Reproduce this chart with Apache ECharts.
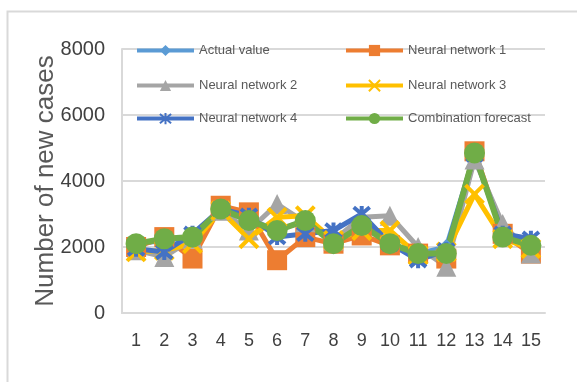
<!DOCTYPE html>
<html>
<head>
<meta charset="utf-8">
<script src="https://cdn.jsdelivr.net/npm/echarts@6/dist/echarts.min.js"></script>
<style>
  html, body { margin: 0; padding: 0; background: #fff; }
  #chart { width: 577px; height: 382px; }
</style>
</head>
<body>
<div id="chart"></div>
<script>
// Days 1..15 and the daily counts of new cases per model
const categories = ['1','2','3','4','5','6','7','8','9','10','11','12','13','14','15'];
const actualValue   = [2100, 2200, 2300, 3150, 2850, 2500, 2800, 2150, 2700, 2100, 1800, 2000, 4800, 2350, 2100];
const neuralNet1    = [2000, 2300, 1650, 3250, 3050, 1600, 2300, 2100, 2350, 2050, 1800, 1650, 4900, 2400, 1800];
const neuralNet2    = [1900, 1700, 2250, 3100, 2500, 3300, 2750, 2200, 2900, 2950, 2000, 1400, 4650, 2700, 1800];
const neuralNet3    = [1850, 1900, 2100, 3100, 2250, 2900, 2950, 2200, 2500, 2500, 1750, 1850, 3600, 2250, 1950];
const neuralNet4    = [1950, 1850, 2400, 3150, 2950, 2300, 2400, 2500, 3000, 2100, 1600, 1900, 4800, 2400, 2250];
const combination   = [2100, 2250, 2300, 3150, 2800, 2500, 2800, 2100, 2650, 2100, 1800, 1800, 4850, 2300, 2050];
const yTicks = { min: 0, max: 8000, interval: 2000 };

const plain = '"Liberation Sans", Arial, sans-serif';

const xMark = 'path://M0,0L10,10M10,0L0,10';
const starMark = 'path://M0,0L10,10M10,0L0,10M5,-1L5,11';

function lineSeries(name, data, color, symbol, size, width, strokeOnly) {
  return {
    name, type: 'line', data,
    symbol, symbolSize: size,
    lineStyle: { color, width },
    itemStyle: strokeOnly
      ? { color: 'rgba(0,0,0,0)', borderColor: color, borderWidth: 4 }
      : { color, borderColor: color, borderWidth: 0 },
    emphasis: { disabled: true },
    animation: false
  };
}

const seriesList = [
  lineSeries('Actual value', actualValue, '#5B9BD5', 'diamond', 16, 5),
  lineSeries('Neural network 1', neuralNet1, '#ED7D31', 'rect', 20, 5),
  lineSeries('Neural network 2', neuralNet2, '#A5A5A5', 'triangle', 20, 5),
  lineSeries('Neural network 3', neuralNet3, '#FFC000', xMark, 18, 5, true),
  lineSeries('Neural network 4', neuralNet4, '#4472C4', starMark, 16, 5, true),
  lineSeries('Combination forecast', combination, '#70AD47', 'circle', 21, 6)
];

// Two-column legend placed inside the plot area
const legendSlots = [
  ['Actual value', 135, 44], ['Neural network 1', 344, 44],
  ['Neural network 2', 135, 79], ['Neural network 3', 344, 79],
  ['Neural network 4', 135, 112], ['Combination forecast', 344, 112]
];
const legends = legendSlots.map(([name, left, top]) => ({
  data: [name], left, top,
  itemWidth: 57, itemHeight: 14, itemGap: 0, padding: 0,
  lineStyle: { width: 4 },
  textStyle: { color: '#595959', fontSize: 13, fontFamily: plain },
  selectedMode: false
}));

const chart = echarts.init(document.getElementById('chart'), null, { renderer: 'canvas' });
chart.setOption({
  animation: false,
  backgroundColor: '#fff',
  graphic: [{
    type: 'rect', z: -10, silent: true,
    shape: { x: 7.5, y: 11.5, width: 620, height: 420 },
    style: { fill: 'none', stroke: '#d9d9d9', lineWidth: 2 }
  }],
  grid: { left: 122, right: 32, top: 49, bottom: 69, containLabel: false },
  legend: legends,
  xAxis: {
    type: 'category', data: categories, boundaryGap: true,
    axisLine: { lineStyle: { color: '#d9d9d9', width: 2 } },
    axisTick: { show: false },
    axisLabel: { color: '#404040', fontSize: 18, fontFamily: plain, margin: 19, interval: 0 }
  },
  yAxis: {
    type: 'value', min: yTicks.min, max: yTicks.max, interval: yTicks.interval,
    name: 'Number of new cases', nameLocation: 'middle', nameGap: 63,
    nameMoveOverlap: false,
    nameTextStyle: { color: '#595959', fontSize: 26, fontFamily: plain },
    axisLine: { show: true, lineStyle: { color: '#d9d9d9', width: 2 } },
    axisTick: { show: false },
    splitLine: { lineStyle: { color: '#d9d9d9', width: 2 } },
    axisLabel: {
      color: '#404040', fontSize: 20, fontFamily: plain, margin: 17,
      formatter: v => String(v)
    }
  },
  series: seriesList
});
</script>
</body>
</html>
